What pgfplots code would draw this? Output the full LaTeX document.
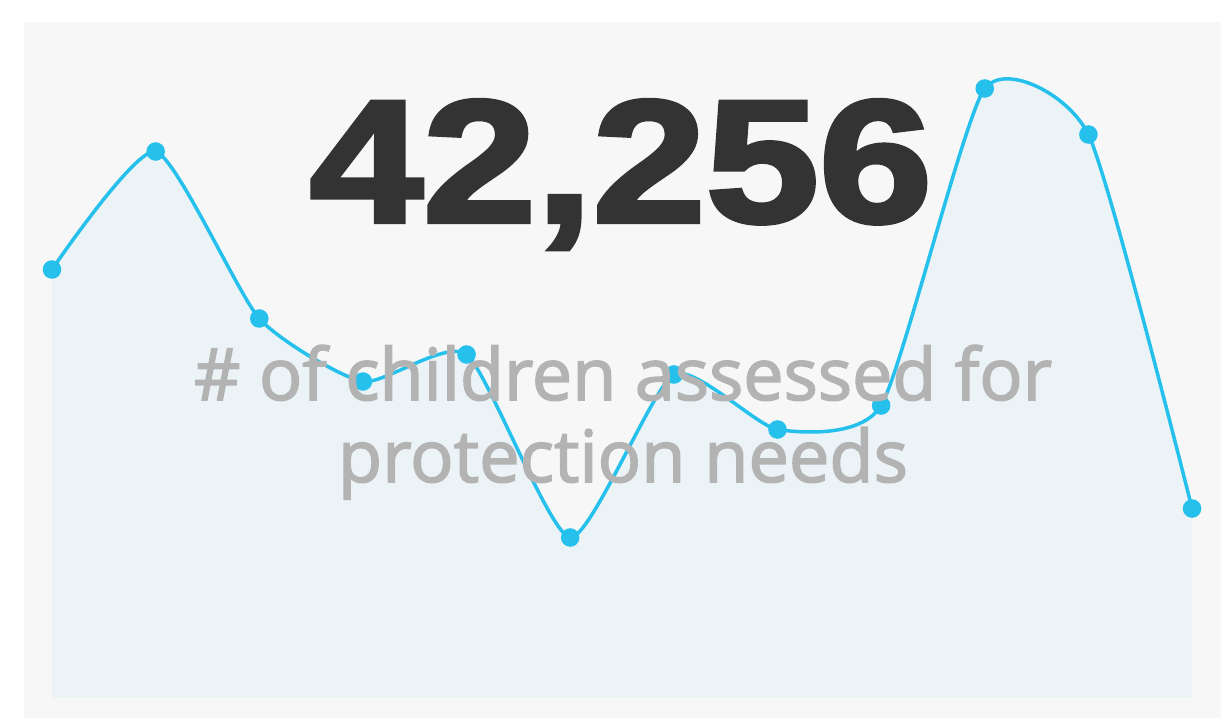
\documentclass[border=0pt]{standalone}
\usepackage{pgfplots}
\pgfplotsset{compat=1.18}
\usepackage{fontspec}
\usepackage{graphicx}
\setmainfont{Open Sans}
\newfontfamily\subf{Open Sans}[FakeBold=2.2]
\newfontfamily\bignum{Liberation Sans Bold}[FakeBold=2.5]
\definecolor{panel}{HTML}{F7F7F7}
\definecolor{areafill}{HTML}{EBF3F6}
\definecolor{linec}{HTML}{25C0EC}
\definecolor{numc}{HTML}{333333}
\definecolor{subc}{HTML}{B3B3B3}

\begin{document}
\begin{tikzpicture}
  % 1 px of the reference = 0.5pt
  \path[use as bounding box] (0,0) rectangle (614.5pt,362pt);
  \fill[panel] (12pt,3pt) rectangle (610.5pt,351pt);
  \begin{axis}[
      at={(26pt,13.25pt)}, anchor=origin,
      x=51.82pt, y=0.5pt,
      xmin=0, xmax=11, ymin=0, ymax=680,
      hide axis, clip=false,
      enlargelimits=false,
    ]
    \addplot[fill=areafill, draw=none, smooth, tension=0.35] coordinates {
        (0,428) (1,546) (2,379) (3,316) (4,343) (5,160)
        (6,323) (7,268) (8,292) (9,609) (10,563) (11,189)
      } \closedcycle;
    \addplot[linec, line width=1.75pt, smooth, tension=0.35,
      mark=*, mark size=3.75pt, mark options={draw=none, fill=linec}] coordinates {
        (0,428) (1,546) (2,379) (3,316) (4,343) (5,160)
        (6,323) (7,268) (8,292) (9,609) (10,563) (11,189)
      };
  \end{axis}
  \node[anchor=base, inner sep=0pt, text=numc] at (310.5pt,251pt)
    {\resizebox{311pt}{61pt}{\bignum 42,256}};
  \node[anchor=base, inner sep=0pt, text=subc] at (311.5pt,162pt)
    {\resizebox{429pt}{!}{\fontsize{36}{40}\subf \# of children assessed for}};
  \node[anchor=base, inner sep=0pt, text=subc] at (311.5pt,121pt)
    {\resizebox{285pt}{!}{\fontsize{36}{40}\subf protection needs}};
\end{tikzpicture}
\end{document}
